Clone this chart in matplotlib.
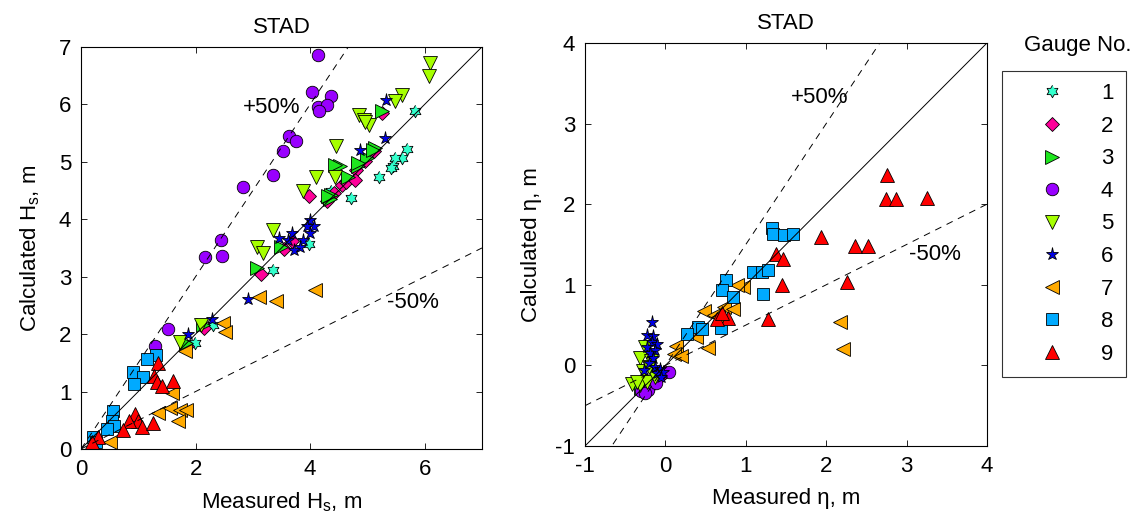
import numpy as np
import matplotlib
matplotlib.use("Agg")
import matplotlib.pyplot as plt
from matplotlib.path import Path
from matplotlib.lines import Line2D

plt.rcParams['font.family'] = ['Liberation Sans', 'DejaVu Sans']
plt.rcParams['mathtext.fontset'] = 'custom'
plt.rcParams['mathtext.rm'] = 'Liberation Sans'
plt.rcParams['mathtext.it'] = 'Liberation Sans'
plt.rcParams['axes.unicode_minus'] = False

# ---- data: (measured, calculated) pairs per gauge ----
# left panel: significant wave height Hs
g1_hs = [(5.83, 5.89), (5.70, 5.22), (5.60, 5.06), (5.48, 5.06), (5.45, 4.92), (5.42, 4.89),
         (5.21, 4.73), (4.71, 4.37), (4.36, 4.50), (3.36, 3.12), (3.98, 3.57), (2.31, 2.16),
         (1.99, 1.84)]
g2_hs = [(5.25, 5.85), (5.12, 5.18), (4.95, 5.02), (4.80, 4.85), (4.55, 4.60), (4.62, 4.65),
         (4.42, 4.45), (4.30, 4.32), (3.55, 3.48), (3.15, 3.05), (3.68, 3.62), (2.14, 2.10),
         (1.85, 1.80), (3.98, 4.40), (4.78, 4.69)]
g3_hs = [(5.25, 5.89), (5.13, 5.24), (4.99, 5.06), (4.84, 4.92), (4.52, 4.92), (4.66, 4.74),
         (4.35, 4.36), (4.43, 4.95), (4.84, 4.98), (4.37, 4.43), (4.32, 4.40), (3.50, 3.52),
         (3.07, 3.15), (2.13, 2.16), (1.84, 1.84), (5.10, 5.21)]
g4_hs = [(4.14, 6.86), (4.04, 6.21), (4.37, 6.15), (4.14, 5.95), (4.29, 5.99), (4.16, 5.89),
         (3.63, 5.45), (3.76, 5.37), (3.52, 5.18), (3.36, 4.77), (2.83, 4.56), (2.44, 3.64),
         (2.16, 3.35), (2.46, 3.36), (1.52, 2.09), (1.29, 1.79)]
g5_hs = [(6.09, 6.72), (6.07, 6.49), (5.61, 6.17), (5.48, 6.05), (4.86, 5.82), (4.94, 5.73),
         (5.03, 5.64), (4.96, 5.70), (4.45, 5.28), (4.43, 4.73), (4.11, 4.74), (3.88, 4.50),
         (3.36, 3.82), (3.07, 3.52), (3.18, 3.42), (1.73, 1.87), (2.09, 2.16)]
g6_hs = [(5.33, 6.08), (5.31, 5.41), (4.87, 5.21), (4.00, 3.98), (4.07, 3.89), (3.94, 3.88),
         (4.00, 3.76), (3.68, 3.76), (3.46, 3.67), (3.88, 3.63), (3.82, 3.52), (3.71, 3.47),
         (3.62, 3.63), (2.92, 2.61), (2.28, 2.26), (1.86, 2.00)]
g7_hs = [(4.08, 2.77), (3.11, 2.65), (3.40, 2.57), (2.48, 2.19), (2.51, 2.04), (1.82, 1.70),
         (1.58, 0.97), (1.35, 0.63), (1.55, 0.71), (1.73, 0.68), (1.84, 0.68), (1.70, 0.48),
         (0.51, 0.13)]
g8_hs = [(1.31, 1.63), (1.15, 1.56), (0.91, 1.34), (1.09, 1.26), (0.93, 1.13), (0.56, 0.67),
         (0.54, 0.48), (0.57, 0.40), (0.21, 0.21), (0.27, 0.12), (0.45, 0.35)]
g9_hs = [(1.34, 1.49), (1.27, 1.27), (1.33, 1.17), (1.41, 1.09), (1.60, 1.19), (0.94, 0.61),
         (1.00, 0.48), (0.83, 0.48), (1.06, 0.39), (1.26, 0.45), (0.74, 0.33), (0.30, 0.21),
         (0.19, 0.13)]

# right panel: surge level eta
g1_eta = [(-0.22, -0.25), (-0.12, -0.12), (-0.05, -0.08)]
g2_eta = [(-0.20, -0.28), (-0.10, -0.18), (-0.02, -0.10), (-0.15, -0.22), (-0.25, -0.30),
          (0.00, -0.08)]
g3_eta = [(-0.30, -0.28), (-0.18, -0.20), (-0.08, -0.12)]
g4_eta = [(-0.30, -0.32), (-0.22, -0.30), (-0.12, -0.22), (-0.25, -0.34), (0.04, -0.08)]
g5_eta = [(-0.25, 0.23), (-0.32, 0.09), (-0.41, -0.23), (-0.32, -0.24), (-0.23, -0.21),
          (-0.28, -0.07), (-0.13, -0.15), (-0.18, 0.06), (-0.20, -0.02), (-0.35, -0.20)]
g6_eta = [(-0.17, 0.54), (-0.23, 0.38), (-0.15, 0.36), (-0.17, 0.29), (-0.11, 0.27),
          (-0.23, 0.23), (-0.13, 0.19), (-0.19, 0.15), (-0.15, 0.09), (-0.21, 0.03),
          (-0.13, -0.02), (-0.07, -0.04), (-0.27, -0.06), (-0.11, -0.10), (-0.03, -0.08),
          (-0.05, -0.14)]
g7_eta = [(2.17, 0.54), (2.21, 0.20), (0.97, 0.97), (0.89, 1.00), (0.53, 0.21), (0.13, 0.24),
          (0.11, 0.14), (0.48, 0.67), (0.60, 0.63), (0.73, 0.73), (0.84, 0.70), (0.38, 0.35),
          (0.66, 0.60), (0.20, 0.12)]
g8_eta = [(1.33, 1.70), (1.34, 1.63), (1.47, 1.62), (1.59, 1.63), (1.09, 1.16), (1.20, 1.16),
          (1.28, 1.18), (1.21, 0.89), (0.76, 1.06), (0.71, 0.94), (0.84, 0.85), (0.41, 0.48),
          (0.27, 0.39), (0.69, 0.46), (0.45, 0.45)]
g9_eta = [(2.76, 2.36), (2.74, 2.06), (2.87, 2.06), (3.25, 2.08), (1.93, 1.59), (2.36, 1.48),
          (2.52, 1.48), (1.38, 1.38), (1.46, 1.32), (1.45, 1.00), (2.26, 1.03), (1.28, 0.57),
          (0.78, 0.59), (0.64, 0.57), (0.70, 0.65)]

gauge_labels = ['1', '2', '3', '4', '5', '6', '7', '8', '9']
hs_sets = [g1_hs, g2_hs, g3_hs, g4_hs, g5_hs, g6_hs, g7_hs, g8_hs, g9_hs]
eta_sets = [g1_eta, g2_eta, g3_eta, g4_eta, g5_eta, g6_eta, g7_eta, g8_eta, g9_eta]

# hexagram marker (two overlapping triangles, like matlab 'h')
ang = np.pi / 2 + np.arange(12) * np.pi / 6
rad = np.where(np.arange(12) % 2 == 0, 1.0, 1 / np.sqrt(3))
hexagram = Path(np.column_stack([rad * np.cos(ang), rad * np.sin(ang)]))

colors = ['#33ffcc', '#ff0099', '#1ee61e', '#9900ff', '#a6ff00',
          '#0000e6', '#ffaa00', '#00aaff', '#ff0000']
markers = [hexagram, 'D', '>', 'o', 'v', '*', '<', 's', '^']
sizes = [9, 7, 9.5, 9, 9.5, 9.5, 9.5, 8.5, 9.5]

fig = plt.figure(figsize=(11.41, 5.27), dpi=100)
ax1 = fig.add_axes([0.0710, 0.148, 0.3514, 0.763])
ax2 = fig.add_axes([0.5127, 0.1537, 0.3523, 0.7647])

FS = 16


def draw(ax, sets, lo, hi):
    for pts, c, m, s in zip(sets, colors, markers, sizes):
        x, y = zip(*pts)
        ax.plot(x, y, linestyle='none', marker=m, ms=s, mfc=c, mec='k', mew=0.6, zorder=2)
    xx = np.array([lo, hi])
    ax.plot(xx, xx, 'k-', lw=0.7, zorder=3)
    ax.plot(xx, 1.5 * xx, 'k', lw=0.7, ls=(0, (7, 6)), zorder=3)
    ax.plot(xx, 0.5 * xx, 'k', lw=0.7, ls=(0, (7, 6)), zorder=3)
    ax.set_xlim(lo, hi)
    ax.set_ylim(lo, hi)
    ax.tick_params(direction='in', top=True, right=True, length=4, width=0.6,
                   labelsize=FS, pad=7)
    for sp in ax.spines.values():
        sp.set_linewidth(0.8)
    ax.set_title('STAD', fontsize=FS, pad=10)


draw(ax1, hs_sets, 0, 7)
ax1.set_xticks([0, 2, 4, 6])
ax1.set_yticks(range(0, 8))
ax1.set_xlabel('Measured H$_\\mathrm{s}$, m', fontsize=FS, labelpad=8)
ax1.set_ylabel('Calculated H$_\\mathrm{s}$, m', fontsize=FS, labelpad=12)
ax1.text(3.33, 5.94, '+50%', fontsize=FS, ha='center', va='center')
ax1.text(5.8, 2.55, '-50%', fontsize=FS, ha='center', va='center')

draw(ax2, eta_sets, -1, 4)
ax2.set_xticks(range(-1, 5))
ax2.set_yticks(range(-1, 5))
ax2.set_xlabel('Measured \u03b7, m', fontsize=FS, labelpad=8)
ax2.set_ylabel('Calculated \u03b7, m', fontsize=FS, labelpad=10)
ax2.text(1.92, 3.32, '+50%', fontsize=FS, ha='center', va='center')
ax2.text(3.35, 1.37, '-50%', fontsize=FS, ha='center', va='center')

handles = [Line2D([], [], linestyle='none', marker=m, ms=s, mfc=c, mec='k', mew=0.6)
           for c, m, s in zip(colors, markers, sizes)]
leg = fig.legend(handles, gauge_labels, loc='upper left',
                 bbox_to_anchor=(1002 / 1141, 1 - 71 / 527), borderaxespad=0,
                 fontsize=FS, frameon=True, fancybox=False, edgecolor='k',
                 handlelength=3.4, handletextpad=0.5, borderpad=0.55, labelspacing=0.52)
leg.get_frame().set_linewidth(0.8)
fig.text(1078 / 1141, 1 - 45 / 527, 'Gauge No.', fontsize=FS, ha='center', va='center')

fig.savefig('out.png', dpi=100)
